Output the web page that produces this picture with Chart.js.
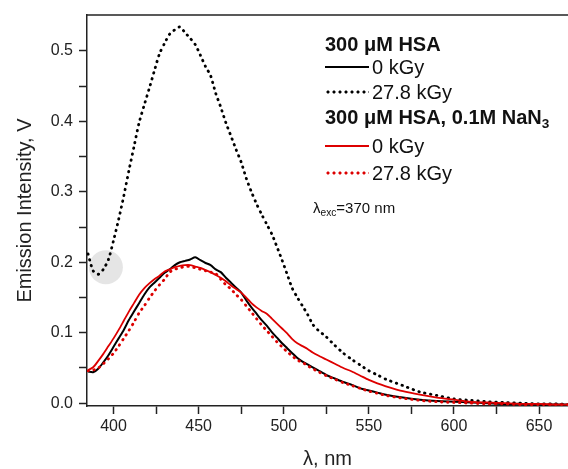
<!DOCTYPE html>
<html>
<head>
<meta charset="utf-8">
<script src="https://cdn.jsdelivr.net/npm/chart.js@4.4.1/dist/chart.umd.min.js"></script>
<style>
  html, body { margin: 0; padding: 0; background: #fff; }
  #wrap { position: relative; width: 568px; height: 469px; font-family: "Liberation Sans", Arial, sans-serif; color: #111; }
  #chart { position: absolute; left: 0; top: 0; }
  .hdr { position: absolute; left: 325px; font-weight: bold; font-size: 20px; line-height: 20px; white-space: nowrap; }
  .lbl { position: absolute; left: 372px; font-size: 20px; line-height: 20px; white-space: nowrap; }
  .smp { position: absolute; left: 325px; width: 44px; }
  .solid { height: 0; border-top: 2px solid; }
  .dots { height: 4px; background-size: 6px 4px; background-repeat: repeat-x; }
  .note { position: absolute; left: 313px; font-size: 15px; line-height: 15px; white-space: nowrap; }
  sub { font-size: 0.68em; vertical-align: -0.3em; line-height: 0; }
</style>
</head>
<body>
<div id="wrap">
  <canvas id="chart" width="568" height="469"></canvas>
  <div class="hdr" style="top:34px">300 μM HSA</div>
  <div class="smp solid" style="top:66px; border-color:#000"></div>
  <div class="lbl" style="top:57px">0 kGy</div>
  <div class="smp dots" style="top:90px; background-image: radial-gradient(circle, #000 1.3px, transparent 1.8px)"></div>
  <div class="lbl" style="top:82px">27.8 kGy</div>
  <div class="hdr" style="top:107px">300 μM HSA, 0.1M NaN<sub>3</sub></div>
  <div class="smp solid" style="top:145px; border-color:#dd0000"></div>
  <div class="lbl" style="top:136px">0 kGy</div>
  <div class="smp dots" style="top:171px; background-image: radial-gradient(circle, #dd0000 1.3px, transparent 1.8px)"></div>
  <div class="lbl" style="top:163px">27.8 kGy</div>
  <div class="note" style="top:200px">λ<sub>exc</sub>=370 nm</div>
</div>
<script>
// emission wavelength grid, nm
const wavelengths = [
  385, 388, 391, 394, 397, 400, 403, 406, 409, 412,
  415, 418, 421, 424, 427, 430, 433, 436, 439, 442,
  445, 448, 451, 454, 457, 460, 463, 466, 469, 472,
  475, 478, 481, 484, 487, 490, 493, 496, 499, 502,
  505, 508, 511, 514, 517, 520,
  525, 530, 535, 540, 545, 550, 555, 560,
  570, 580, 590, 600, 610, 620, 630, 640, 650, 660,
  667
];

// 300 uM HSA, 0 kGy
const hsa0 = [
  0.045, 0.044, 0.049, 0.058, 0.068, 0.080, 0.092, 0.104, 0.118, 0.130,
  0.142, 0.154, 0.164, 0.171, 0.178, 0.185, 0.190, 0.196, 0.200, 0.202,
  0.204, 0.207, 0.203, 0.199, 0.196, 0.190, 0.186, 0.178, 0.171, 0.164,
  0.157, 0.146, 0.136, 0.127, 0.118, 0.110, 0.101, 0.093, 0.085, 0.078,
  0.071, 0.064, 0.059, 0.055, 0.051, 0.047,
  0.040, 0.035, 0.030, 0.026, 0.021, 0.018, 0.015, 0.012,
  0.008, 0.005, 0.003, 0.002, 0.001, 0.000, -0.001, -0.001, -0.002, -0.002,
  -0.002
];

// 300 uM HSA, 27.8 kGy
const hsa278 = [
  0.212, 0.188, 0.183, 0.190, 0.204, 0.231, 0.261, 0.294, 0.330, 0.364,
  0.398, 0.423, 0.447, 0.472, 0.496, 0.511, 0.524, 0.530, 0.534, 0.526,
  0.518, 0.509, 0.494, 0.478, 0.465, 0.440, 0.420, 0.398, 0.379, 0.360,
  0.342, 0.319, 0.300, 0.283, 0.268, 0.254, 0.240, 0.222, 0.203, 0.183,
  0.163, 0.150, 0.138, 0.126, 0.112, 0.104,
  0.094, 0.082, 0.071, 0.062, 0.054, 0.046, 0.040, 0.034,
  0.025, 0.016, 0.011, 0.006, 0.004, 0.002, 0.001, 0.000, -0.001, -0.001,
  -0.002
];

// 300 uM HSA + 0.1 M NaN3, 0 kGy
const azide0 = [
  0.047, 0.051, 0.060, 0.070, 0.081, 0.092, 0.104, 0.117, 0.130, 0.142,
  0.154, 0.163, 0.170, 0.176, 0.181, 0.187, 0.190, 0.193, 0.195, 0.196,
  0.196, 0.194, 0.192, 0.189, 0.186, 0.182, 0.178, 0.173, 0.167, 0.162,
  0.157, 0.150, 0.142, 0.136, 0.131, 0.127, 0.120, 0.113, 0.106, 0.099,
  0.091, 0.085, 0.081, 0.077, 0.072, 0.068,
  0.062, 0.056, 0.050, 0.045, 0.039, 0.033, 0.028, 0.024,
  0.017, 0.012, 0.008, 0.005, 0.002, 0.001, 0.000, -0.001, -0.001, -0.002,
  -0.002
];

// 300 uM HSA + 0.1 M NaN3, 27.8 kGy
const azide278 = [
  0.046, 0.047, 0.050, 0.056, 0.063, 0.071, 0.081, 0.092, 0.103, 0.115,
  0.128, 0.138, 0.149, 0.159, 0.168, 0.176, 0.186, 0.190, 0.192, 0.194,
  0.194, 0.192, 0.190, 0.188, 0.186, 0.184, 0.176, 0.168, 0.162, 0.154,
  0.147, 0.138, 0.129, 0.120, 0.111, 0.103, 0.095, 0.087, 0.080, 0.073,
  0.067, 0.061, 0.058, 0.053, 0.049, 0.045,
  0.039, 0.034, 0.029, 0.025, 0.021, 0.017, 0.014, 0.011,
  0.007, 0.004, 0.002, 0.001, 0.000, -0.001, -0.001, -0.002, -0.002, -0.002,
  -0.002
];

// grey marker round the local minimum of the irradiated curve
const highlight = [{x: 395.5, y: 0.193}];

const xTicks = [400, 425, 450, 475, 500, 525, 550, 575, 600, 625, 650];
const yTicks = [0, 0.05, 0.1, 0.15, 0.2, 0.25, 0.3, 0.35, 0.4, 0.45, 0.5];

const RED = '#dd0000';
const AXIS = '#222';
const FONT = '"Liberation Sans", Arial, sans-serif';

function pts(values) {
  return wavelengths.map((w, i) => ({x: w, y: values[i]}));
}

// top frame line like the original plot
const frameTop = {
  id: 'frameTop',
  afterDraw(chart) {
    const {ctx, chartArea} = chart;
    ctx.save();
    ctx.strokeStyle = AXIS;
    ctx.lineWidth = 1.5;
    ctx.beginPath();
    ctx.moveTo(chartArea.left, chartArea.top);
    ctx.lineTo(chartArea.right, chartArea.top);
    ctx.stroke();
    ctx.restore();
  }
};

const dotted = {borderDash: [0.5, 5.5], borderCapStyle: 'round', borderWidth: 2.8};

new Chart(document.getElementById('chart'), {
  type: 'line',
  data: {
    datasets: [
      Object.assign({label: 'HSA+NaN3 27.8 kGy', data: pts(azide278), borderColor: RED}, dotted),
      {label: 'HSA+NaN3 0 kGy', data: pts(azide0), borderColor: RED, borderWidth: 1.8},
      {label: 'HSA 0 kGy', data: pts(hsa0), borderColor: '#000', borderWidth: 2},
      Object.assign({label: 'HSA 27.8 kGy', data: pts(hsa278), borderColor: '#000'}, dotted),
      {
        label: 'mark', data: highlight, showLine: false, clip: false,
        pointRadius: 17, pointHoverRadius: 17, pointBorderWidth: 0,
        pointBackgroundColor: 'rgba(160,160,160,0.28)', borderColor: 'transparent'
      }
    ]
  },
  options: {
    responsive: false,
    devicePixelRatio: 1,
    animation: false,
    parsing: false,
    layout: {autoPadding: false, padding: {top: 15, right: 0, left: 0, bottom: 0}},
    elements: {
      point: {radius: 0},
      line: {tension: 0.25, fill: false}
    },
    scales: {
      x: {
        type: 'linear',
        min: 384.4,
        max: 667,
        afterBuildTicks: (scale) => { scale.ticks = xTicks.map(v => ({value: v})); },
        afterFit: (scale) => { scale.height = 63; scale.paddingRight = 0; scale.paddingLeft = 0; },
        ticks: {
          autoSkip: false, maxRotation: 0, padding: 3, color: AXIS,
          font: {family: FONT, size: 16},
          callback: (v) => (v % 50 === 0 ? String(v) : '')
        },
        grid: {drawOnChartArea: false, drawTicks: true, tickLength: 8, tickWidth: 1.5, tickColor: AXIS},
        border: {display: true, color: AXIS, width: 1.5},
        title: {display: true, text: 'λ, nm', color: AXIS, font: {family: FONT, size: 20, lineHeight: 1}, padding: 0}
      },
      y: {
        type: 'linear',
        min: -0.004,
        max: 0.551,
        afterBuildTicks: (scale) => { scale.ticks = yTicks.map(v => ({value: v})); },
        afterFit: (scale) => { scale.width = 87; scale.paddingTop = 0; scale.paddingBottom = 0; },
        ticks: {
          autoSkip: false, padding: 6, color: AXIS,
          font: {family: FONT, size: 16},
          callback: (v) => (Math.round(v * 100) % 10 === 0 ? v.toFixed(1) : '')
        },
        grid: {drawOnChartArea: false, drawTicks: true, tickLength: 8, tickWidth: 1.5, tickColor: AXIS},
        border: {display: true, color: AXIS, width: 1.5},
        title: {display: true, text: 'Emission Intensity, V', color: AXIS, font: {family: FONT, size: 20, lineHeight: 1}, padding: {top: 15, bottom: 0}}
      }
    },
    plugins: {
      legend: {display: false},
      tooltip: {enabled: false}
    }
  },
  plugins: [frameTop]
});
</script>
</body>
</html>
